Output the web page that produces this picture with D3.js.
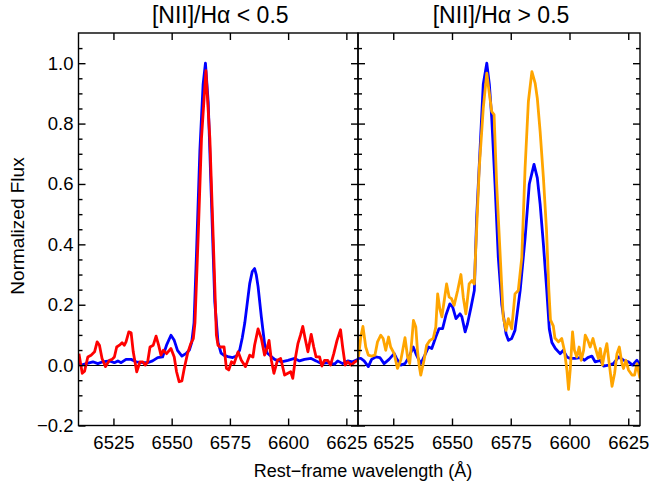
<!DOCTYPE html>
<html><head><meta charset="utf-8">
<script src="https://cdn.jsdelivr.net/npm/d3@7"></script>
<style>
body{margin:0;background:#fff}
text{font-family:"Liberation Sans",Arial,Helvetica,sans-serif;fill:#000}
</style>
</head><body><svg id="c" width="649" height="491"></svg>
<script>
// ---------- data ----------
const panelTitles = ["[NII]/H\u03b1 < 0.5", "[NII]/H\u03b1 > 0.5"];
const xDomain = [6510, 6630];
const yDomain = [-0.2, 1.1];
const xTicks = [6525, 6550, 6575, 6600, 6625];
const yTicks = [-0.2, 0.0, 0.2, 0.4, 0.6, 0.8, 1.0];
const yMinorTicks = [-0.15,-0.1,-0.05,0.05,0.1,0.15,0.25,0.3,0.35,0.45,0.5,0.55,0.65,0.7,0.75,0.85,0.9,0.95,1.05];
const xLabel = "Rest\u2212frame wavelength (\u00c5)";
const yLabel = "Normalized Flux";

// left panel, blue
const leftBlueWl = [6510,6511.2,6513.3,6516.2,6518.3,6520.4,6523.3,6525.4,6526.9,6528.3,6530.4,6532.6,6534.7,6537.6,6539.7,6541.8,6544,6546.1,6547.8,6549.7,6551.1,6552.5,6554.4,6556.1,6557.6,6558.6,6559.6,6560.7,6562.1,6563.5,6564.5,6565.7,6567.1,6568.5,6569.9,6571.2,6572.5,6574.2,6576.2,6577.8,6579.2,6580.3,6581.4,6583.5,6584.6,6585.6,6586.3,6587.1,6588.5,6589.9,6591,6592.5,6594.2,6597.1,6599.9,6602.8,6604.9,6607,6609.9,6612,6614.2,6617,6619.9,6621.3,6623.4,6625.6,6627.7,6630];
const leftBlueFlux = [0.005,0,0.005,0.011,0.005,0.011,0.014,0.008,0.014,0.008,0.019,0.019,0.011,0.008,0.008,0.014,0.025,0.027,0.066,0.099,0.082,0.049,0.03,0.038,0.05,0.075,0.14,0.38,0.71,0.93,1.0,0.87,0.54,0.21,0.075,0.04,0.032,0.028,0.025,0.03,0.05,0.09,0.14,0.27,0.31,0.32,0.3,0.26,0.16,0.07,0.04,0.03,0.019,0.011,0.016,0.022,0.014,0.019,0.022,0.014,0.005,0.008,0.003,0.014,0.005,0.014,0.011,0.019];

// left panel, red
const leftRedWl = [6510.2,6511.6,6512.6,6514,6515.4,6516.9,6518,6519,6520.1,6521.6,6523.3,6524.4,6525.4,6526.4,6527.6,6528.7,6529.7,6530.4,6531.6,6532.6,6533.5,6535,6536.4,6537.6,6538.7,6539.7,6540.7,6542.1,6543.3,6544.4,6545.4,6546.4,6547.8,6549.7,6551.1,6552.1,6553.2,6554.4,6555.4,6556.8,6558.2,6559.3,6560,6561.4,6562.8,6564.7,6566.4,6567.8,6569.2,6569.9,6570.7,6572.5,6573.5,6574.5,6575.7,6576.8,6578.5,6579.9,6581.7,6583.5,6584.9,6585.6,6587.1,6588.5,6589.9,6591.1,6591.8,6592.8,6593.9,6595.4,6596.8,6598.5,6599.9,6601.1,6602,6603.2,6604.2,6605.3,6606.3,6607.3,6608.5,6609.9,6611,6612,6613.5,6614.5,6615.6,6617,6618.2,6619.6,6621,6622.5,6623.4,6624.5,6625.6,6627,6628.3,6629.6];
const leftRedFlux = [0.038,-0.027,-0.02,0.027,0.033,0.044,0.077,0.066,0.022,-0.005,0.016,0.019,0.027,0.06,0.066,0.074,0.066,0.077,0.11,0.107,0.044,-0.022,0.011,0.011,0,0.011,0.06,0.066,0.096,0.066,0.033,0.049,0.038,0.055,0.027,-0.022,-0.055,-0.052,-0.011,0.038,0.071,0.088,0.14,0.43,0.75,0.975,0.75,0.43,0.1,0.066,0.06,0.06,-0.011,-0.016,0.011,0.005,0.044,0.016,-0.005,0.033,0.027,0.066,0.12,0.088,0.033,0.06,0.082,0.016,-0.027,0.016,0.022,-0.033,-0.027,-0.022,-0.044,0.027,0.071,0.099,0.128,0.088,0.044,0.102,0.06,0.027,0.027,-0.003,0.016,0.016,0,0.038,0.082,0.117,0.06,0,0.011,0,0.008,0.016];

// right panel, blue
const rightBlueWl = [6510,6511.2,6512.6,6514.4,6515.8,6517.5,6519.3,6521.1,6523.2,6525.4,6526.4,6528.2,6530,6531.7,6533.5,6534.9,6536.7,6538.1,6540,6541.4,6543.1,6544.5,6546,6547.4,6549.1,6550.3,6551.7,6553.4,6554.2,6555.6,6556.6,6558.1,6559.5,6560.5,6561.9,6563.3,6564.8,6565.9,6566.9,6568.3,6569.7,6571.2,6573,6574,6575.4,6576.8,6579,6581.1,6582.9,6584.9,6586.3,6587.5,6588.9,6590.3,6591.4,6592.5,6594,6596,6597.4,6598.9,6600.3,6602.4,6604.5,6606.4,6607.8,6609.5,6610.9,6613.1,6614.5,6616.6,6618.7,6620.9,6623,6625.1,6626.8,6628.7,6630];
const rightBlueFlux = [0.022,0.022,0.014,-0.005,0.019,0.027,0.025,0.005,0.019,0.038,0.022,0,0.005,0.027,0.06,0.033,0.005,0.027,0.06,0.055,0.093,0.121,0.121,0.165,0.203,0.192,0.154,0.17,0.16,0.11,0.137,0.192,0.247,0.49,0.71,0.93,1.0,0.93,0.82,0.6,0.357,0.2,0.104,0.082,0.088,0.115,0.247,0.42,0.6,0.665,0.62,0.533,0.4,0.25,0.12,0.075,0.055,0.038,0.049,0.027,0.022,0.022,0.025,0.016,0.025,0.03,0.011,0.016,-0.003,0,0.005,0.027,0.016,0.011,0,0.016,0];

// right panel, orange
const rightOrangeWl = [6510.2,6511.2,6512.1,6513.3,6514.4,6515.8,6517.2,6518.3,6519.7,6520.7,6521.8,6523,6523.9,6525.4,6526.8,6528.2,6528.9,6530,6531.1,6532,6532.9,6533.6,6534.6,6535.3,6536,6536.7,6538.1,6539.2,6540.6,6542,6543.1,6543.9,6544.8,6545.7,6546.7,6547.7,6548.8,6549.8,6550.9,6552.4,6553.8,6554.8,6555.9,6557.3,6558.5,6559.5,6560.2,6561.6,6563.3,6564.8,6565.6,6566.9,6567.9,6569,6570.4,6571.8,6573,6574,6575.4,6576.8,6578.2,6579.7,6581.1,6582.5,6584,6585.4,6586.3,6587.5,6588.9,6590.2,6591.2,6591.9,6593.1,6593.8,6595.3,6596.7,6597.8,6598.9,6599.6,6600.3,6601.3,6602.1,6603.1,6604.1,6605,6606,6606.7,6607.8,6608.8,6610,6610.9,6612.3,6613.1,6614,6614.9,6615.9,6616.9,6618.1,6619.2,6620.2,6621.2,6622.3,6623,6624,6625.1,6626.6,6627.7,6628.7,6630];
const rightOrangeFlux = [0.027,0.093,0.128,0.06,0.033,0.03,0.033,0.077,0.099,0.088,0.049,0.093,0.06,0.038,-0.011,0.016,0.044,0.091,0.027,0.005,0.082,0.148,0.126,0.049,0,-0.033,0.016,0.066,0.082,0.088,0.126,0.236,0.187,0.16,0.214,0.269,0.225,0.22,0.198,0.247,0.3,0.225,0.17,0.269,0.28,0.269,0.4,0.653,0.85,0.967,0.917,0.84,0.83,0.6,0.38,0.16,0.115,0.154,0.12,0.236,0.247,0.357,0.653,0.873,0.972,0.933,0.884,0.774,0.62,0.45,0.25,0.15,0.13,0.09,0.077,0.088,0.049,-0.016,-0.08,-0.016,0.11,0.049,0.027,0.06,0.016,0.049,0.099,0.082,0.06,0.088,0.06,0.022,0.055,0,0.038,0.071,0.005,-0.07,-0.027,0.038,0.06,0.005,-0.011,0.016,-0.016,-0.033,-0.033,0.005,-0.044];

const seriesColors = {blue:"#0000ff", red:"#ff0000", orange:"#ffa500"};

// ---------- layout ----------
const svg = d3.select("#c");
const plotTop = 33, plotBottom = 425.5;
const panels = [
  {x0:78.5, x1:358, title:panelTitles[0], showY:true,
   series:[{wl:leftBlueWl, f:leftBlueFlux, c:seriesColors.blue},{wl:leftRedWl, f:leftRedFlux, c:seriesColors.red}]},
  {x0:358, x1:640, title:panelTitles[1], showY:false,
   series:[{wl:rightBlueWl, f:rightBlueFlux, c:seriesColors.blue},{wl:rightOrangeWl, f:rightOrangeFlux, c:seriesColors.orange}]}
];
const y = d3.scaleLinear().domain(yDomain).range([plotBottom, plotTop]);
const fs = 18.5;

panels.forEach((p, i) => {
  const x = d3.scaleLinear().domain(xDomain).range([p.x0, p.x1]);
  const g = svg.append("g");
  const cid = "clip" + i;
  svg.append("clipPath").attr("id", cid).append("rect")
    .attr("x", p.x0).attr("y", plotTop).attr("width", p.x1 - p.x0).attr("height", plotBottom - plotTop);

  g.append("line").attr("x1", p.x0).attr("x2", p.x1).attr("y1", y(0)).attr("y2", y(0))
    .attr("stroke", "#000").attr("stroke-width", 1).attr("shape-rendering", "crispEdges");

  const lg = g.append("g").attr("clip-path", `url(#${cid})`);
  p.series.forEach(s => {
    const pts = s.wl.map((w, k) => [w, s.f[k]]);
    lg.append("path").datum(pts)
      .attr("d", d3.line().x(d => x(d[0])).y(d => y(d[1])))
      .attr("fill", "none").attr("stroke", s.c).attr("stroke-width", 2.8)
      .attr("stroke-linejoin", "round");
  });

  const styleAxis = (sel) => {
    sel.select(".domain").remove();
    sel.selectAll(".tick line").attr("stroke", "#000").attr("stroke-width", 1.4);
    sel.selectAll("text").style("font-size", fs + "px").attr("fill", "#000");
  };
  const xb = g.append("g").attr("transform", `translate(0,${plotBottom})`)
    .call(d3.axisBottom(x).tickValues(xTicks).tickSize(-7).tickPadding(10).tickFormat(d3.format("d")));
  styleAxis(xb);
  const xt = g.append("g").attr("transform", `translate(0,${plotTop})`)
    .call(d3.axisTop(x).tickValues(xTicks).tickSize(-7).tickFormat(""));
  styleAxis(xt);

  const yl = g.append("g").attr("transform", `translate(${p.x0},0)`)
    .call(d3.axisLeft(y).tickValues(yTicks).tickSize(-7).tickPadding(5)
      .tickFormat(p.showY ? d3.format(".1f") : ""));
  styleAxis(yl);
  const ylm = g.append("g").attr("transform", `translate(${p.x0},0)`)
    .call(d3.axisLeft(y).tickValues(yMinorTicks).tickSize(-4).tickFormat(""));
  styleAxis(ylm);
  const yr = g.append("g").attr("transform", `translate(${p.x1},0)`)
    .call(d3.axisRight(y).tickValues(yTicks).tickSize(-7).tickFormat(""));
  styleAxis(yr);
  const yrm = g.append("g").attr("transform", `translate(${p.x1},0)`)
    .call(d3.axisRight(y).tickValues(yMinorTicks).tickSize(-4).tickFormat(""));
  styleAxis(yrm);

  g.append("rect").attr("x", p.x0).attr("y", plotTop).attr("width", p.x1 - p.x0).attr("height", plotBottom - plotTop)
    .attr("fill", "none").attr("stroke", "#000").attr("stroke-width", 1.4);

  svg.append("text").attr("x", (p.x0 + p.x1) / 2 + 2).attr("y", 23)
    .attr("text-anchor", "middle").style("font-size", "23px").text(p.title);
});

svg.append("text").attr("x", 363).attr("y", 477).attr("text-anchor", "middle")
  .style("font-size", "18px").text(xLabel);
svg.append("text").attr("transform", "translate(24,226) rotate(-90)").attr("text-anchor", "middle")
  .style("font-size", "19px").text(yLabel);
</script>
</body></html>
